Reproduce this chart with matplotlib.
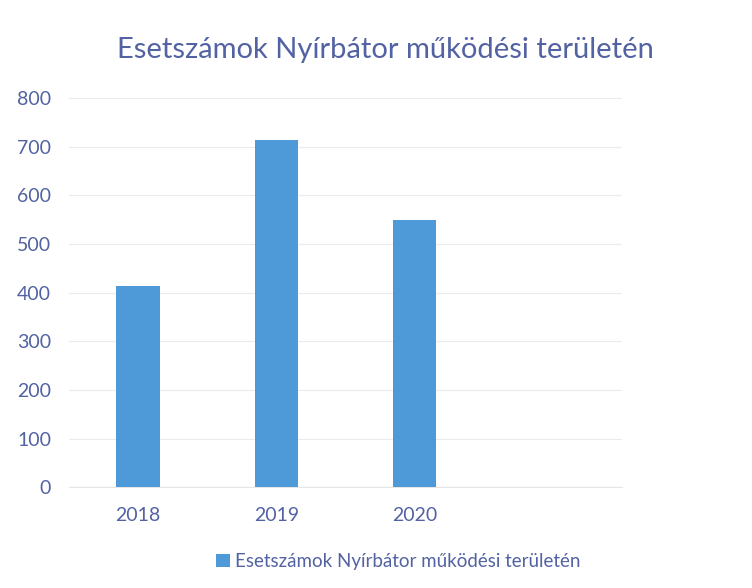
import matplotlib
matplotlib.use("Agg")
import matplotlib.pyplot as plt

categories = ["2018", "2019", "2020", ""]
values = [413, 714, 550, 0]
series_name = "Esetszámok Nyírbátor működési területén"
title = "Esetszámok Nyírbátor működési területén"
yticks = [0, 100, 200, 300, 400, 500, 600, 700, 800]

text_color = "#5262a2"
bar_color = "#4e9ad9"

plt.rcParams['font.family'] = ['Lato', 'DejaVu Sans']

fig = plt.figure(figsize=(7.52, 5.88), dpi=100)
ax = fig.add_axes([0.0918, 0.171, 0.735, 0.6625])

x = list(range(len(categories)))
ax.bar(x, values, width=0.315, color=bar_color, label=series_name, zorder=3)
ax.set_xlim(-0.5, len(categories) - 0.5)
ax.set_ylim(0, 800)
ax.set_yticks(yticks)
ax.set_yticklabels([str(v) for v in yticks], color=text_color, fontsize=14)
ax.set_xticks(x)
ax.set_xticklabels(categories, color=text_color, fontsize=14)
ax.tick_params(axis='y', length=0, pad=13)
ax.tick_params(axis='x', length=0, pad=14)
ax.grid(axis='y', color='#ebebeb', linewidth=0.8, zorder=0)
for s in ['top', 'right', 'left']:
    ax.spines[s].set_visible(False)
ax.spines['bottom'].set_color('#e6e6e6')

fig.text(0.512, 0.915, title, ha='center', va='center', color=text_color, fontsize=21)
fig.legend(loc='center', bbox_to_anchor=(0.53, 0.045), frameon=False,
           labelcolor=text_color, fontsize=13.5, handlelength=0.7, handleheight=0.7,
           handletextpad=0.3)

fig.savefig("out.png", dpi=100)
